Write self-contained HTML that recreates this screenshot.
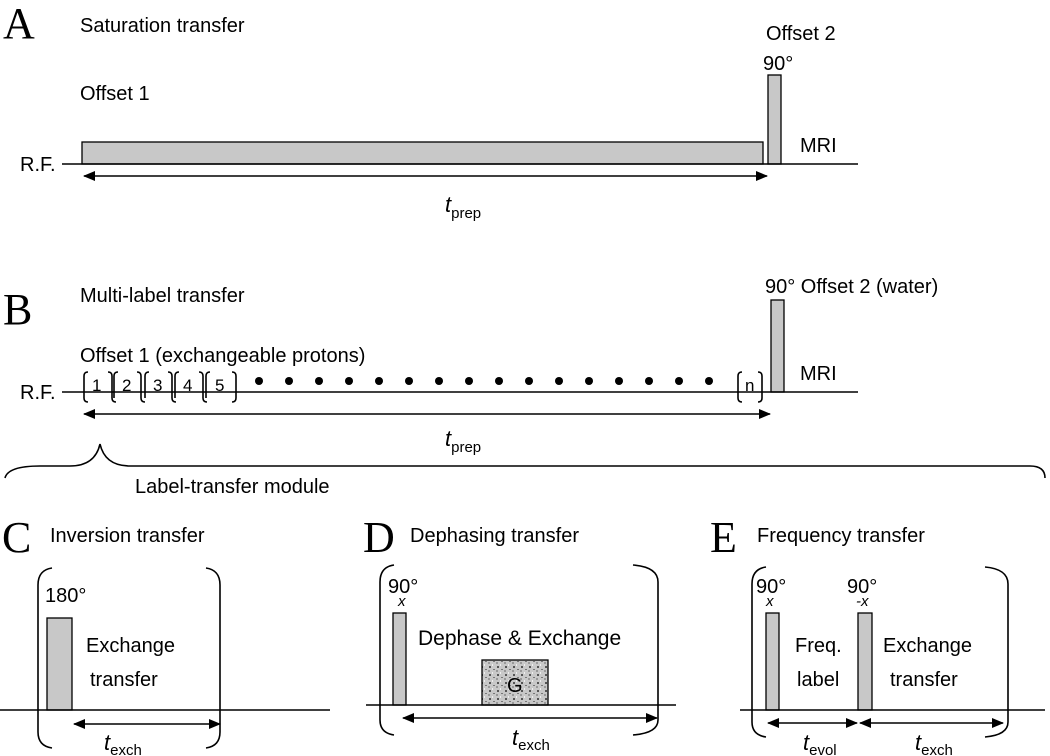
<!DOCTYPE html>
<html><head><meta charset="utf-8"><style>
html,body{margin:0;padding:0;background:#fff}
svg{display:block;font-family:"Liberation Sans",sans-serif}
.L{font-family:"Liberation Serif",serif;font-size:44px}
.t{font-size:20px}
</style></head><body>
<svg width="1050" height="756" viewBox="0 0 1050 756" xmlns="http://www.w3.org/2000/svg">
<defs>
<marker id="a" markerWidth="12" markerHeight="10" refX="11" refY="5" orient="auto-start-reverse" markerUnits="userSpaceOnUse"><path d="M0,0 L12,5 L0,10 z" fill="#000"/></marker>
<pattern id="n" width="8" height="8" patternUnits="userSpaceOnUse"><rect width="8" height="8" fill="#c8c8c8"/><rect x="1" y="2" width="2" height="2" fill="#555"/><rect x="5" y="5" width="2" height="1" fill="#777"/><rect x="4" y="0" width="1" height="2" fill="#eee"/><rect x="0" y="6" width="2" height="2" fill="#999"/></pattern>
</defs>
<g fill="#000" stroke="none">
<!-- A -->
<text class="L" x="3" y="38">A</text>
<text class="t" x="80" y="32">Saturation transfer</text>
<text class="t" x="766" y="40">Offset 2</text>
<text class="t" x="763" y="70">90°</text>
<text class="t" x="80" y="100">Offset 1</text>
<text class="t" x="20" y="171">R.F.</text>
<text class="t" x="800" y="152">MRI</text>
<text class="t" x="445" y="212"><tspan font-style="italic" font-size="22">t</tspan><tspan font-size="15" dy="6">prep</tspan></text>
<!-- B -->
<text class="L" x="3" y="324">B</text>
<text class="t" x="80" y="302">Multi-label transfer</text>
<text class="t" x="765" y="293">90° Offset 2 (water)</text>
<text class="t" x="80" y="362">Offset 1 (exchangeable protons)</text>
<text class="t" x="20" y="399">R.F.</text>
<text class="t" x="800" y="380">MRI</text>
<text class="t" x="445" y="446"><tspan font-style="italic" font-size="22">t</tspan><tspan font-size="15" dy="6">prep</tspan></text>
<g font-size="17">
<text x="92" y="391">1</text><text x="122" y="391">2</text><text x="153" y="391">3</text><text x="183" y="391">4</text><text x="215" y="391">5</text><text x="745" y="391">n</text>
</g>
<g>
<circle cx="259" cy="381" r="4"/><circle cx="289" cy="381" r="4"/><circle cx="319" cy="381" r="4"/><circle cx="349" cy="381" r="4"/><circle cx="379" cy="381" r="4"/><circle cx="409" cy="381" r="4"/><circle cx="439" cy="381" r="4"/><circle cx="469" cy="381" r="4"/><circle cx="499" cy="381" r="4"/><circle cx="529" cy="381" r="4"/><circle cx="559" cy="381" r="4"/><circle cx="589" cy="381" r="4"/><circle cx="619" cy="381" r="4"/><circle cx="649" cy="381" r="4"/><circle cx="679" cy="381" r="4"/><circle cx="709" cy="381" r="4"/>
</g>
<text class="t" x="135" y="493">Label-transfer module</text>
<!-- C -->
<text class="L" x="2" y="552">C</text>
<text class="t" x="50" y="542">Inversion transfer</text>
<text class="t" x="45" y="602">180°</text>
<text class="t" x="86" y="652">Exchange</text>
<text class="t" x="90" y="686">transfer</text>
<text class="t" x="104" y="750"><tspan font-style="italic" font-size="22">t</tspan><tspan font-size="15" dy="5">exch</tspan></text>
<!-- D -->
<text class="L" x="363" y="552">D</text>
<text class="t" x="410" y="542">Dephasing transfer</text>
<text class="t" x="388" y="593">90°</text><text x="398" y="606" font-size="15" font-style="italic">x</text>
<text x="418" y="645" font-size="21">Dephase &amp; Exchange</text>
<text class="t" x="512" y="745"><tspan font-style="italic" font-size="22">t</tspan><tspan font-size="15" dy="5">exch</tspan></text>
<!-- E -->
<text class="L" x="710" y="552">E</text>
<text class="t" x="757" y="542">Frequency transfer</text>
<text class="t" x="756" y="593">90°</text><text x="766" y="606" font-size="15" font-style="italic">x</text>
<text class="t" x="847" y="593">90°</text><text x="856" y="606" font-size="15" font-style="italic">-x</text>
<text class="t" x="795" y="652">Freq.</text>
<text class="t" x="797" y="686">label</text>
<text class="t" x="883" y="652">Exchange</text>
<text class="t" x="890" y="686">transfer</text>
<text class="t" x="803" y="750"><tspan font-style="italic" font-size="22">t</tspan><tspan font-size="15" dy="5">evol</tspan></text>
<text class="t" x="915" y="750"><tspan font-style="italic" font-size="22">t</tspan><tspan font-size="15" dy="5">exch</tspan></text>
</g>
<g fill="#c8c8c8" stroke="#000" stroke-width="1.3">
<rect x="82" y="142" width="681" height="22"/>
<rect x="768" y="75" width="13" height="89"/>
<rect x="771" y="300" width="13" height="92"/>
<rect x="47" y="618" width="25" height="92"/>
<rect x="393" y="613" width="13" height="92"/>
<rect x="766" y="613" width="13" height="97"/>
<rect x="858" y="613" width="14" height="97"/>
<rect x="482" y="660" width="66" height="45" fill="url(#n)"/>
</g>
<text x="507" y="692" font-size="20" font-family="Liberation Sans,sans-serif">G</text>
<g stroke="#000" stroke-width="1.6" fill="none">
<line x1="62" y1="164" x2="858" y2="164"/>
<line x1="84" y1="176" x2="767" y2="176" marker-start="url(#a)" marker-end="url(#a)"/>
<line x1="62" y1="392" x2="858" y2="392"/>
<line x1="84" y1="414" x2="770" y2="414" marker-start="url(#a)" marker-end="url(#a)"/>
<path d="M5,478 Q8,466 40,466 L70,466 Q95,466 100,444 Q105,466 130,466 L1030,466 Q1045,466 1045,478"/>
<!-- B brackets -->
<path d="M88,372 Q84,372 84,376 L84,398 Q84,402 88,402"/>
<path d="M108,372 Q112,372 112,376 L112,398 Q112,402 116,402"/>
<path d="M118,372 Q114,372 114,376 L114,398"/>
<path d="M137,372 Q141,372 141,376 L141,398 Q141,402 145,402"/>
<path d="M149,372 Q145,372 145,376 L145,398"/>
<path d="M168,372 Q172,372 172,376 L172,398 Q172,402 176,402"/>
<path d="M179,372 Q175,372 175,376 L175,398"/>
<path d="M199,372 Q203,372 203,376 L203,398 Q203,402 207,402"/>
<path d="M210,372 Q206,372 206,376 L206,398"/>
<path d="M232,372 Q236,372 236,376 L236,398 Q236,402 232,402"/>
<path d="M742,372 Q738,372 738,376 L738,398 Q738,402 742,402"/>
<path d="M758,372 Q762,372 762,376 L762,398 Q762,402 758,402"/>
<!-- C -->
<line x1="0" y1="710" x2="330" y2="710"/>
<line x1="74" y1="724" x2="220" y2="724" marker-start="url(#a)" marker-end="url(#a)"/>
<path d="M52,568 Q38,570 38,585 L38,732 Q38,746 52,748"/>
<path d="M206,568 Q220,570 220,585 L220,732 Q220,746 206,748"/>
<!-- D -->
<line x1="366" y1="705" x2="676" y2="705"/>
<line x1="403" y1="718" x2="657" y2="718" marker-start="url(#a)" marker-end="url(#a)"/>
<path d="M394,565 Q380,567 380,582 L380,720 Q380,733 394,735"/>
<path d="M633,565 Q658,567 658,582 L658,720 Q658,733 633,735"/>
<!-- E -->
<line x1="740" y1="710" x2="1045" y2="710"/>
<line x1="768" y1="723" x2="857" y2="723" marker-start="url(#a)" marker-end="url(#a)"/>
<line x1="860" y1="723" x2="1003" y2="723" marker-start="url(#a)" marker-end="url(#a)"/>
<path d="M766,567 Q752,569 752,584 L752,722 Q752,735 766,737"/>
<path d="M985,567 Q1008,569 1008,584 L1008,722 Q1008,735 985,737"/>
</g>
</svg>
</body></html>
